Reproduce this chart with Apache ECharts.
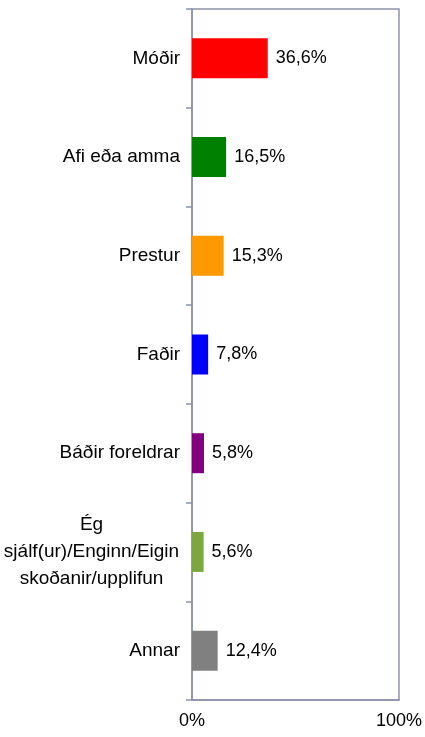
<!DOCTYPE html>
<html>
<head>
<meta charset="utf-8">
<script src="https://cdn.jsdelivr.net/npm/echarts@6/dist/echarts.min.js"></script>
<style>
  html, body { margin: 0; padding: 0; background: #fff; }
  #chart { width: 425px; height: 737px; }
</style>
</head>
<body>
<div id="chart"></div>
<script>
const categories = [
  'Móðir',
  'Afi eða amma',
  'Prestur',
  'Faðir',
  'Báðir foreldrar',
  'Ég\nsjálf(ur)/Enginn/Eigin\nskoðanir/upplifun',
  'Annar'
];
const values = [36.6, 16.5, 15.3, 7.8, 5.8, 5.6, 12.4];
const barColors = ['#ff0000', '#008000', '#ff9900', '#0000ff', '#800080', '#7aa73e', '#808080'];

const font = '"Liberation Sans", Arial, sans-serif';
const axisColor = '#8a93a6';
const catSize = 19;

// widest line of a label, so multi-line labels can be centred inside their own block
const ctx = document.createElement('canvas').getContext('2d');
ctx.font = catSize + 'px ' + font;
function widest(lines) {
  let w = 0;
  lines.forEach(function (l) { w = Math.max(w, ctx.measureText(l).width); });
  return Math.ceil(w) + 1;
}

const chart = echarts.init(document.getElementById('chart'));
chart.setOption({
  animation: false,
  grid: {
    left: 190,
    right: 24,
    top: 9,
    bottom: 37,
    show: true,
    borderColor: axisColor,
    borderWidth: 1.5
  },
  xAxis: {
    type: 'value',
    min: 0,
    max: 100,
    interval: 100,
    axisLine: { show: true, lineStyle: { color: axisColor, width: 1.5 } },
    axisTick: { show: false },
    splitLine: { show: false },
    axisLabel: {
      color: '#000',
      fontFamily: font,
      fontSize: 18,
      margin: 12,
      formatter: function (v) { return v + '%'; }
    }
  },
  yAxis: {
    type: 'category',
    inverse: true,
    data: categories,
    axisLine: { show: true, lineStyle: { color: axisColor, width: 1.5 } },
    axisTick: { show: true, length: 6, lineStyle: { color: axisColor, width: 1.5 } },
    axisLabel: {
      color: '#000',
      fontFamily: font,
      fontSize: catSize,
      margin: 12,
      lineHeight: 27,
      formatter: function (v) {
        const lines = v.split('\n');
        if (lines.length === 1) return v;
        return lines.map(function (l) { return '{c|' + l + '}'; }).join('\n');
      },
      rich: {
        c: {
          width: widest(categories[5].split('\n')),
          align: 'center',
          fontFamily: font,
          fontSize: catSize,
          lineHeight: 27,
          color: '#000'
        }
      }
    }
  },
  series: [{
    type: 'bar',
    barWidth: 40,
    data: values.map(function (v, i) {
      return { value: v, itemStyle: { color: barColors[i] } };
    }),
    label: {
      show: true,
      position: 'right',
      distance: 8,
      color: '#000',
      fontFamily: font,
      fontSize: 18,
      formatter: function (p) { return p.value.toFixed(1).replace('.', ',') + '%'; }
    }
  }]
});
</script>
</body>
</html>
